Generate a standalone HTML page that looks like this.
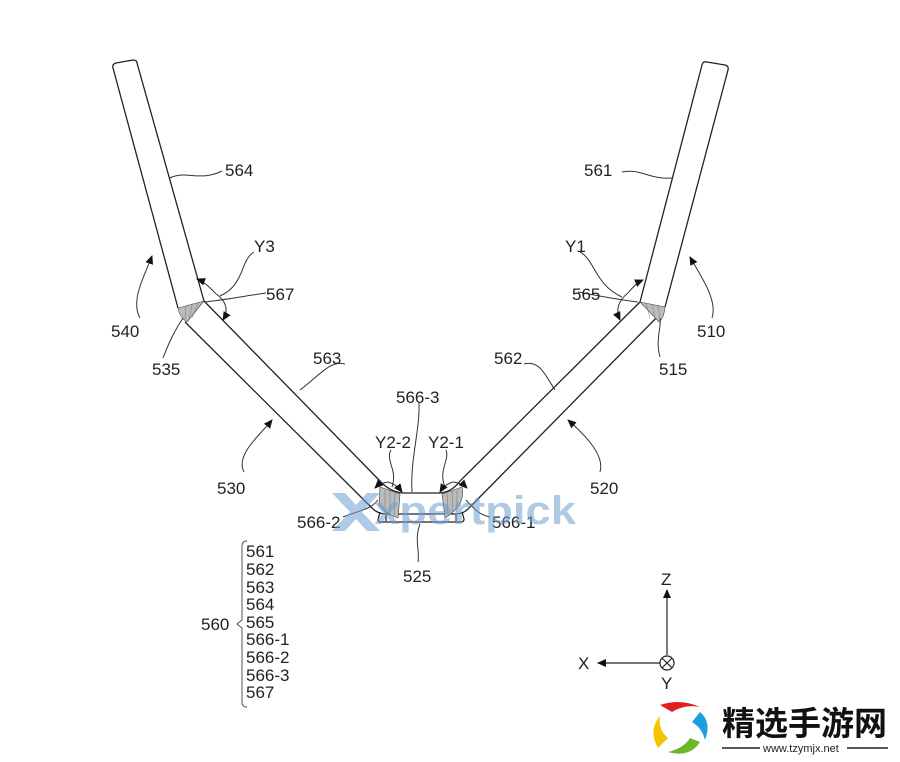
<!DOCTYPE html>
<html><head><meta charset="utf-8"><style>
html,body{margin:0;padding:0;background:#fff}
svg{display:block}
text{font-family:"Liberation Sans","Noto Sans CJK SC",sans-serif;fill:#222}
</style></head><body>
<svg width="900" height="762" viewBox="0 0 900 762" xmlns="http://www.w3.org/2000/svg">
<defs>
<marker id="ah" markerWidth="10" markerHeight="10" refX="8" refY="5" orient="auto" markerUnits="userSpaceOnUse">
<path d="M0,1 L9,5 L0,9 Z" fill="#111"/></marker>
</defs>
<g fill="none" stroke="#222" stroke-width="1.3">
<path d="M178,308 L113,68 Q112,64 116,63 L133,60 Q137,60 137,63 L204,301" fill="#fff"/>
<path d="M640,302 L702,65 Q703,61 707,62 L725,65 Q729,66 728,70 L665,307" fill="#fff"/>
<path d="M204,301 L380,481 Q390,492 403,493 L440,493 Q452,492 460,481 L640,302"/>
<path d="M185,322 L372,508 Q378,514 386,514 L456,514 Q464,514 470,507 L663,311"/>
<path d="M380,512 L378,520 Q378,522 381,522 L461,522 Q464,522 464,519 L462,512"/>
<path d="M386,515 L386,521 M456,515 L456,521"/>
</g>
<g stroke="#444" stroke-width="0.6" fill="#bbb">
<path d="M178,308 L204,301 L187,322 Q180,318 178,308 Z"/>
<path d="M640,302 L665,307 Q664,318 659,322 Z"/>
<path d="M380,487 L400,494 L398,518 Q385,514 379,505 Z"/>
<path d="M442,494 L462,487 Q466,505 445,518 Z"/>
</g>
<g stroke="#666" stroke-width="0.4">
<path d="M186,306 L185,320 M192,305 L189,320 M198,303 L192,318 M646,303 L650,318 M652,304 L655,319 M658,305 L660,318"/>
<path d="M385,490 L385,514 M390,491 L390,516 M395,492 L394,517 M447,492 L448,516 M452,491 L453,515 M457,490 L457,512"/>
</g>
<g fill="none" stroke="#333" stroke-width="1">
<path d="M170,178 C185,170 200,182 222,171"/>
<path d="M622,172 C640,168 650,180 672,178"/>
<path d="M254,252 C240,260 245,285 220,296"/>
<path d="M266,293 C245,296 225,300 204,302"/>
<path d="M580,252 C595,260 595,285 622,297"/>
<path d="M578,292 C600,296 620,300 638,302"/>
<path d="M163,358 C170,340 175,330 183,318"/>
<path d="M660,357 C655,340 662,325 660,318"/>
<path d="M345,364 C330,360 320,375 300,390"/>
<path d="M524,364 C540,360 545,375 555,390"/>
<path d="M419,403 C420,430 410,460 412,492"/>
<path d="M391,450 C385,460 398,470 392,487"/>
<path d="M446,450 C450,460 438,470 445,487"/>
<path d="M343,517 C360,510 370,510 378,500"/>
<path d="M490,517 C480,515 475,510 466,500"/>
<path d="M418,562 C420,550 414,540 420,524"/>
<path d="M140,318 C130,300 145,275 152,256" marker-end="url(#ah)"/>
<path d="M244,472 C235,455 260,435 272,420" marker-end="url(#ah)"/>
<path d="M600,472 C605,455 585,435 568,420" marker-end="url(#ah)"/>
<path d="M712,318 C718,300 700,275 690,257" marker-end="url(#ah)"/>
<path d="M215,293 Q232,305 223,320" marker-end="url(#ah)"/>
<path d="M215,293 Q205,282 197,279" marker-end="url(#ah)"/>
<path d="M628,293 Q613,305 620,320" marker-end="url(#ah)"/>
<path d="M628,293 Q636,283 643,280" marker-end="url(#ah)"/>
<path d="M388,482 Q396,484 402,492" marker-end="url(#ah)"/>
<path d="M388,482 Q380,483 375,488" marker-end="url(#ah)"/>
<path d="M453,482 Q445,484 440,492" marker-end="url(#ah)"/>
<path d="M453,482 Q462,483 467,488" marker-end="url(#ah)"/>
</g>
<g font-size="17">
<text x="225" y="176">564</text>
<text x="584" y="176">561</text>
<text x="254" y="252">Y3</text>
<text x="565" y="252">Y1</text>
<text x="266" y="300">567</text>
<text x="572" y="300">565</text>
<text x="111" y="337">540</text>
<text x="697" y="337">510</text>
<text x="152" y="375">535</text>
<text x="659" y="375">515</text>
<text x="313" y="364">563</text>
<text x="494" y="364">562</text>
<text x="217" y="494">530</text>
<text x="590" y="494">520</text>
<text x="396" y="403">566-3</text>
<text x="375" y="448">Y2-2</text>
<text x="428" y="448">Y2-1</text>
<text x="297" y="528">566-2</text>
<text x="492" y="528">566-1</text>
<text x="403" y="582">525</text>
</g>
<g opacity="0.55">
<path d="M332,493 L345,493 L356,505 L367,493 L380,493 L362,512 L380,531 L367,531 L356,519 L345,531 L332,531 L350,512 Z" fill="#6f9fd0"/>
<text x="374" y="524" font-size="40" font-weight="bold" textLength="202" lengthAdjust="spacingAndGlyphs" style="fill:#6f9fd0">xpertpick</text>
</g>
<g font-size="17">
<text x="246" y="557">561</text>
<text x="246" y="575">562</text>
<text x="246" y="593">563</text>
<text x="246" y="610">564</text>
<text x="246" y="628">565</text>
<text x="246" y="645">566-1</text>
<text x="246" y="663">566-2</text>
<text x="246" y="681">566-3</text>
<text x="246" y="698">567</text>
<text x="201" y="630">560</text>
</g>
<path d="M247,541 Q242,541 242,546 L242,620 L237,624 L242,628 L242,702 Q242,707 247,707" fill="none" stroke="#555" stroke-width="1"/>
<g fill="none" stroke="#222" stroke-width="1.2">
<path d="M667,655 L667,590" marker-end="url(#ah)"/>
<path d="M660,663 L598,663" marker-end="url(#ah)"/>
<circle cx="667" cy="663" r="7"/>
<path d="M662,658 L672,668 M672,658 L662,668"/>
</g>
<g font-size="17">
<text x="661" y="585">Z</text>
<text x="578" y="669">X</text>
<text x="661" y="689">Y</text>
</g>
<g>
<path d="M660,705 Q680,698 700,707 Q685,704 672,712 Z" fill="#e02020"/>
<path d="M700,712 Q712,722 705,740 Q702,728 692,722 Z" fill="#1a9ee0"/>
<path d="M700,742 Q690,758 668,752 Q684,748 690,738 Z" fill="#6ab82a"/>
<path d="M658,748 Q648,730 660,716 Q658,730 668,738 Z" fill="#f5c400"/>
<text x="722" y="735" font-size="33" font-weight="bold" textLength="165" lengthAdjust="spacingAndGlyphs" style="fill:#111;font-family:'Noto Sans CJK SC',sans-serif">精选手游网</text>
<path d="M722,748 L760,748 M847,748 L888,748" stroke="#222" stroke-width="1.5"/>
<text x="763" y="752" font-size="11" style="fill:#222">www.tzymjx.net</text>
</g>
</svg>
</body></html>
